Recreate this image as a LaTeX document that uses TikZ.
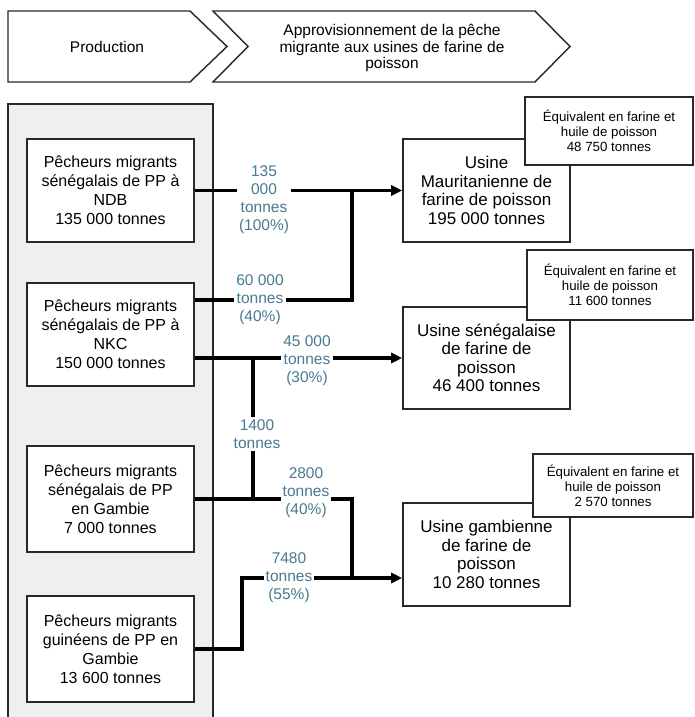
\documentclass[tikz,border=0pt]{standalone}
\usepackage{fontspec}
\setmainfont{Liberation Sans}
\usetikzlibrary{arrows.meta}
\usetikzlibrary{positioning}
\usetikzlibrary{calc}
\definecolor{labelblue}{RGB}{72,122,144}
\definecolor{boxgray}{RGB}{40,40,40}
\definecolor{panelgray}{RGB}{239,239,239}
\begin{document}
\begin{tikzpicture}[x=1pt,y=-1pt]
		  \tikzset{
			prodbox/.style={draw=boxgray,fill=white,line width=0.55mm,align=center,
			  minimum width=167pt,minimum height=103pt,font=\fontsize{16}{19}\selectfont},
			usinebox/.style={prodbox,font=\fontsize{17}{18.5}\selectfont},
			equivbox/.style={draw=boxgray,fill=white,line width=0.5mm,align=center,
			  font=\fontsize{13.3}{15}\selectfont},
			qty/.style={text=labelblue,fill=white,align=center,inner sep=2pt,
			  font=\fontsize{15.5}{18}\selectfont},
			flow/.style={line width=1.2mm,black},
			flowarrow/.style={flow,-{Triangle[length=11pt,width=10pt]}},
		  }
		  \useasboundingbox (0,0) rectangle (694,717);
		  %CHEVRONS
		  \draw[boxgray,line width=0.5mm,fill=white] (8,11) -- (190,11) -- (227,46.5) -- (190,82) -- (8,82) -- cycle;
		  \draw[boxgray,line width=0.5mm,fill=white] (213,11) -- (535,11) -- (570,46.5) -- (535,82) -- (213,82) -- (248,46.5) -- cycle;
		  \node[font=\fontsize{15.5}{16.5}\selectfont] (prod) at (107,47) {Production};
		  \node[align=center,font=\fontsize{15.5}{16.5}\selectfont] (appro) at (392,48)
			{Approvisionnement de la pêche\\migrante aux usines de farine de\\poisson};
		  %PANEL
		  \draw[boxgray,line width=0.5mm,fill=panelgray] (8,730) -- (8,104) -- (213,104) -- (213,730);
		  %PRODUCTION BOXES
		  \node[prodbox] (ndb) at (110.5,190.5) {Pêcheurs migrants\\sénégalais de PP à\\NDB\\135 000 tonnes};
		  \node[prodbox] (nkc) at (110.5,334.5) {Pêcheurs migrants\\sénégalais de PP à\\NKC\\150 000 tonnes};
		  \node[prodbox,minimum height=106pt] (gsen) at (110.5,499) {Pêcheurs migrants\\sénégalais de PP\\en Gambie\\7 000 tonnes};
		  \node[prodbox,minimum height=106pt] (gguin) at (110.5,649) {Pêcheurs migrants\\guinéens de PP en\\Gambie\\13 600 tonnes};
		  %USINES
		  \node[usinebox] (umau) at (486.5,190.5) {Usine\\Mauritanienne de\\farine de poisson\\195 000 tonnes};
		  \node[usinebox,minimum height=102pt] (usen) at (486.5,358) {Usine sénégalaise\\de farine de\\poisson\\46 400 tonnes};
		  \node[usinebox] (ugam) at (486.5,554.5) {Usine gambienne\\de farine de\\poisson\\10 280 tonnes};
		  %EQUIVALENTS
		  \node[equivbox,minimum width=168pt,minimum height=68pt] (eq1) at (609,131) {Équivalent en farine et\\huile de poisson\\48 750 tonnes};
		  \node[equivbox,minimum width=166pt,minimum height=70pt] (eq2) at (610,285) {Équivalent en farine et\\huile de poisson\\11 600 tonnes};
		  \node[equivbox,minimum width=160pt,minimum height=63pt] (eq3) at (613,485.5) {Équivalent en farine et\\huile de poisson\\2 570 tonnes};
		  %QUANTITIES
		  \node[qty] (l135) at (264,200) {135\\000\\tonnes\\(100\%)};
		  \node[qty] (l60) at (260,300) {60 000\\tonnes\\(40\%)};
		  \node[qty] (l45) at (307,361) {45 000\\tonnes\\(30\%)};
		  \node[qty] (l1400) at (257,434) {1400\\tonnes};
		  \node[qty] (l2800) at (306,493) {2800\\tonnes\\(40\%)};
		  \node[qty] (l7480) at (289,578) {7480\\tonnes\\(55\%)};
		  %JUNCTIONS
		  \coordinate (j1) at (352,190.5);
		  \coordinate (b2) at (253,358);
		  \coordinate (b3) at (253,499);
		  \coordinate (j3) at (352,578);
		  \coordinate (k4) at (242,578);
		  %FLOWS NDB NKC
		  \draw[flow] (ndb.east) -- (l135.west |- ndb.east);
		  \draw[flowarrow] (l135.east |- ndb.east) -- (umau.west);
		  \draw[flow] (nkc.east |- l60) -- (l60.west);
		  \draw[flow] (l60.east) -| (j1);
		  \draw[flow] (nkc.east |- b2) -- (l45.west |- b2);
		  \draw[flowarrow] (l45.east |- b2) -- (usen.west);
		  \draw[flow] (b2) -- (b2 |- l1400.north);
		  \draw[flow] (b3 |- l1400.south) -- (b3);
		  %FLOWS GAMBIE
		  \draw[flow] (gsen.east) -- (l2800.west |- gsen.east);
		  \draw[flow] (l2800.east |- gsen.east) -| (j3);
		  \draw[flow] (gguin.east) -| (k4) -- (l7480.west |- k4);
		  \draw[flowarrow] (l7480.east |- j3) -- (ugam.west |- j3);
		  \end{tikzpicture}
\end{document}
